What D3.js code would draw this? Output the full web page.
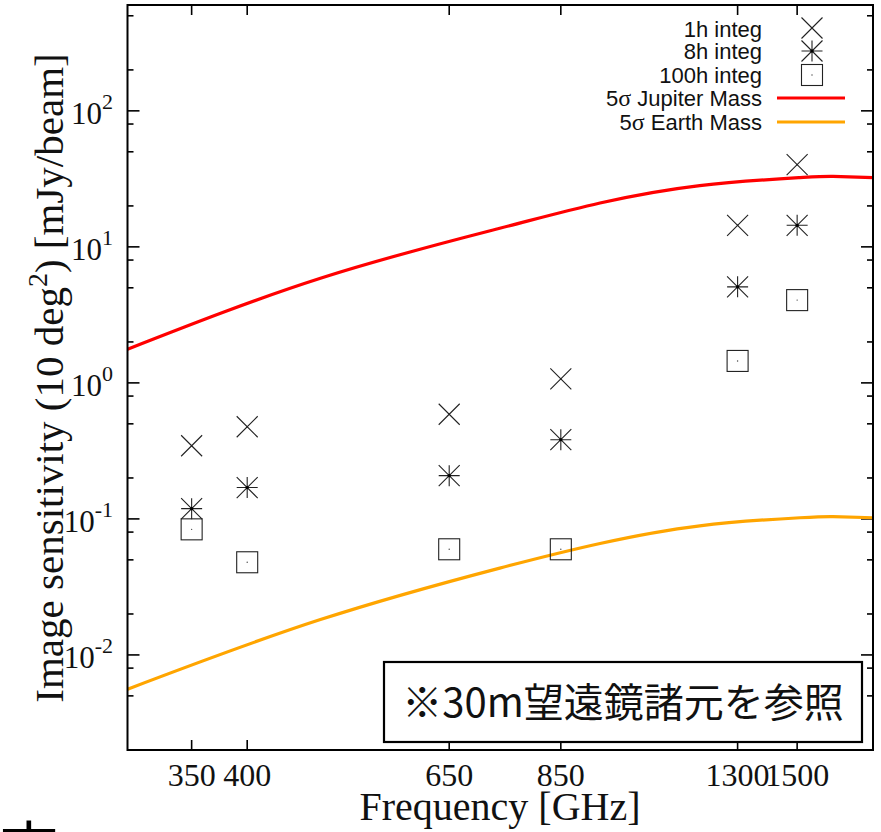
<!DOCTYPE html>
<html>
<head>
<meta charset="utf-8">
<script src="https://cdn.jsdelivr.net/npm/d3@7"></script>
<style>
  html, body { margin: 0; padding: 0; background: #fff; }
  svg { display: block; }
</style>
</head>
<body>
<svg id="chart" width="881" height="832"></svg>
<script>
// Observing frequencies (GHz) and their tick labels
const freqs = [350, 400, 650, 850, 1300, 1500];
const freqLabels = ["350", "400", "650", "850", "1300", "1500"];

// Image sensitivity (mJy/beam) for each integration time
const integ1h = [0.345, 0.476, 0.588, 1.07, 14.4, 40.2];
const integ8h = [0.119, 0.170, 0.208, 0.382, 5.08, 14.4];
const integ100h = [0.0838, 0.048, 0.0598, 0.0598, 1.45, 4.06];

// 5-sigma detection curves for planet masses
const curveFreq = [300, 477, 734, 934, 1187, 1510, 1635, 1800];
const jupiterMass = [1.77, 5.88, 13.7, 21.0, 28.2, 32.3, 33.0, 32.3];
const earthMass = [0.0056, 0.0182, 0.0435, 0.066, 0.089, 0.102, 0.104, 0.102];

// Decade exponents shown on the y axis
const decades = [-2, -1, 0, 1, 2];

const legendLabels = ["1h integ", "8h integ", "100h integ", "Jupiter Mass", "Earth Mass"];

const svg = d3.select("#chart");
const L = 127.5, R = 873, T = 5, B = 750;

const x = d3.scaleLog().domain([300, 1800]).range([L, R]);
const y = d3.scaleLog().domain([0.002, 600]).range([B, T]);

const serif = "'Liberation Serif', 'Times New Roman', serif";
const sans = "'Liberation Sans', Arial, sans-serif";

svg.append("defs").append("clipPath").attr("id", "plot")
  .append("rect").attr("x", L).attr("y", T).attr("width", R - L).attr("height", B - T);

// Y ticks: majors at decades, minors at 2, 5, 8
const yMinor = [];
decades.concat([-3]).forEach(e => [2, 5, 8].forEach(m => {
  const v = m * Math.pow(10, e);
  if (v >= 0.002 && v <= 600) yMinor.push(v);
}));
const ticksG = svg.append("g").attr("stroke", "#000").attr("stroke-width", 1.6);
decades.forEach(e => {
  const yy = y(Math.pow(10, e));
  ticksG.append("line").attr("x1", L).attr("x2", L + 12).attr("y1", yy).attr("y2", yy);
  ticksG.append("line").attr("x1", R).attr("x2", R - 12).attr("y1", yy).attr("y2", yy);
});
yMinor.forEach(v => {
  const yy = y(v);
  ticksG.append("line").attr("x1", L).attr("x2", L + 6).attr("y1", yy).attr("y2", yy);
  ticksG.append("line").attr("x1", R).attr("x2", R - 6).attr("y1", yy).attr("y2", yy);
});
// X ticks on bottom and top
freqs.forEach(f => {
  const xx = x(f);
  ticksG.append("line").attr("x1", xx).attr("x2", xx).attr("y1", B).attr("y2", B - 10);
  ticksG.append("line").attr("x1", xx).attr("x2", xx).attr("y1", T).attr("y2", T + 10);
});

// Y tick labels 10^n
decades.forEach(e => {
  const t = svg.append("text")
    .attr("x", 113).attr("y", y(Math.pow(10, e)) + 13)
    .attr("text-anchor", "end")
    .attr("font-family", serif).attr("font-size", 31).attr("fill", "#111");
  t.append("tspan").text("10");
  t.append("tspan").attr("dy", -15).attr("font-size", 22).text(String(e));
});

// X tick labels
svg.append("g").selectAll("text").data(freqs).join("text")
  .attr("x", d => x(d)).attr("y", 786)
  .attr("text-anchor", "middle")
  .attr("font-family", serif).attr("font-size", 32).attr("fill", "#111")
  .text((d, i) => freqLabels[i]);

// Axis titles
svg.append("text")
  .attr("x", 500).attr("y", 820)
  .attr("text-anchor", "middle")
  .attr("font-family", serif).attr("font-size", 40).attr("fill", "#111")
  .text("Frequency [GHz]");

const yt = svg.append("text")
  .attr("transform", "translate(63,378) rotate(-90)")
  .attr("text-anchor", "middle")
  .attr("font-family", serif).attr("font-size", 41).attr("fill", "#111");
yt.append("tspan").text("Image sensitivity (10 deg");
yt.append("tspan").attr("dy", -16).attr("font-size", 28).text("2");
yt.append("tspan").attr("dy", 16).text(") [mJy/beam]");

// Planet-mass curves
const line = d3.line()
  .x((d, i) => x(curveFreq[i]))
  .y(d => y(d))
  .curve(d3.curveNatural);
const curves = svg.append("g").attr("clip-path", "url(#plot)").attr("fill", "none").attr("stroke-width", 3.2);
curves.append("path").attr("d", line(jupiterMass)).attr("stroke", "#ff0000");
curves.append("path").attr("d", line(earthMass)).attr("stroke", "#ffa500");

// Marker drawing helpers
const S = 10.5;
function cross(g, cx, cy) {
  g.append("path").attr("d", `M${cx - S},${cy - S}L${cx + S},${cy + S}M${cx - S},${cy + S}L${cx + S},${cy - S}`);
  g.append("circle").attr("cx", cx).attr("cy", cy).attr("r", 0.8).attr("fill", "#222").attr("stroke", "none");
}
function star(g, cx, cy) {
  g.append("path").attr("d",
    `M${cx - S},${cy - S}L${cx + S},${cy + S}M${cx - S},${cy + S}L${cx + S},${cy - S}` +
    `M${cx - S},${cy}L${cx + S},${cy}M${cx},${cy - S}L${cx},${cy + S}`);
  g.append("circle").attr("cx", cx).attr("cy", cy).attr("r", 1.6).attr("fill", "#000").attr("stroke", "none");
}
function square(g, cx, cy) {
  g.append("rect").attr("x", cx - S).attr("y", cy - S).attr("width", 2 * S).attr("height", 2 * S).attr("fill", "none");
  g.append("circle").attr("cx", cx).attr("cy", cy).attr("r", 0.7).attr("fill", "#444").attr("stroke", "none");
}

const marks = svg.append("g").attr("stroke", "#222").attr("stroke-width", 1.1).attr("fill", "none");
freqs.forEach((f, i) => {
  cross(marks, x(f), y(integ1h[i]));
  star(marks, x(f), y(integ8h[i]));
  square(marks, x(f), y(integ100h[i]));
});

// Legend
const legendY = [29, 51, 75, 98, 122];
const lg = svg.append("g");
legendLabels.forEach((lab, i) => {
  const t = lg.append("text")
    .attr("x", 762).attr("y", legendY[i] + 8)
    .attr("text-anchor", "end")
    .attr("font-family", sans).attr("font-size", 22).attr("fill", "#111");
  if (i >= 3) {
    t.append("tspan").text("5");
    t.append("tspan").attr("font-family", serif).attr("font-size", 24).text("σ");
    t.append("tspan").text(" " + lab);
  } else {
    t.text(lab);
  }
});
const lm = lg.append("g").attr("stroke", "#222").attr("stroke-width", 1.1).attr("fill", "none");
cross(lm, 812, legendY[0] - 1);
star(lm, 812, legendY[1]);
square(lm, 812, legendY[2]);
lg.append("line").attr("x1", 777).attr("x2", 845).attr("y1", legendY[3]).attr("y2", legendY[3])
  .attr("stroke", "#ff0000").attr("stroke-width", 3.2);
lg.append("line").attr("x1", 777).attr("x2", 845).attr("y1", legendY[4]).attr("y2", legendY[4])
  .attr("stroke", "#ffa500").attr("stroke-width", 3.2);

// Note box
svg.append("rect").attr("x", 384).attr("y", 662).attr("width", 478).attr("height", 80)
  .attr("fill", "#fff").attr("stroke", "#000").attr("stroke-width", 2.2);
svg.append("text")
  .attr("x", 623).attr("y", 717)
  .attr("text-anchor", "middle")
  .attr("font-family", "'Noto Sans CJK JP', sans-serif").attr("font-size", 40).attr("fill", "#111")
  .text("※30m望遠鏡諸元を参照");

// Frame
svg.append("rect").attr("x", L).attr("y", T).attr("width", R - L).attr("height", B - T)
  .attr("fill", "none").attr("stroke", "#000").attr("stroke-width", 2);

// Heading glyph at the lower edge of the page
svg.append("text")
  .attr("x", 29).attr("y", 870)
  .attr("text-anchor", "middle")
  .attr("font-family", "'Noto Sans CJK JP', sans-serif").attr("font-size", 58).attr("fill", "#000")
  .text("市");
</script>
</body>
</html>
